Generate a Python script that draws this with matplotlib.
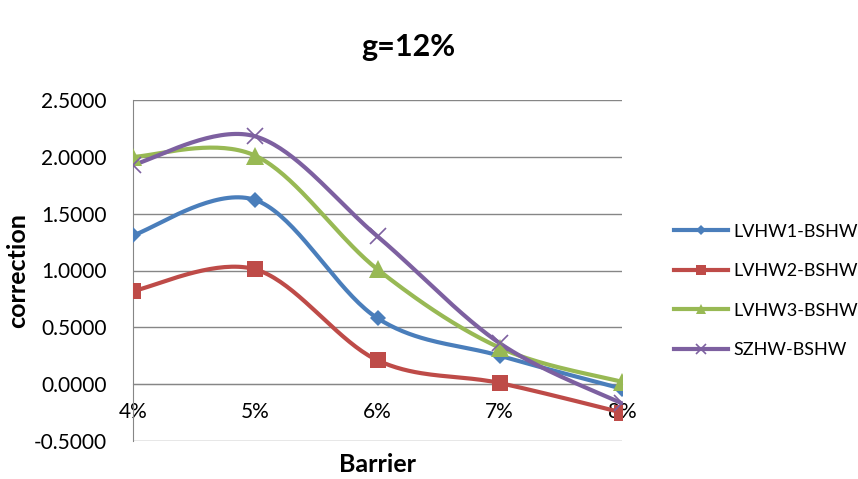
import numpy as np
import matplotlib
matplotlib.use("Agg")
from matplotlib import pyplot as plt

plt.rcParams['font.family'] = ['Lato', 'DejaVu Sans']

barriers = ["4%", "5%", "6%", "7%", "8%"]
lvhw1 = [1.31, 1.62, 0.58, 0.25, -0.04]
lvhw2 = [0.82, 1.01, 0.21, 0.01, -0.25]
lvhw3 = [2.00, 2.01, 1.01, 0.32, 0.02]
szhw = [1.93, 2.18, 1.30, 0.36, -0.17]

series = [
    ("LVHW1-BSHW", lvhw1, "#4A7EBB", "D", 8),
    ("LVHW2-BSHW", lvhw2, "#BE4B48", "s", 12),
    ("LVHW3-BSHW", lvhw3, "#98B954", "^", 13),
    ("SZHW-BSHW", szhw, "#7D60A0", "x", 12),
]


def smooth(x, y, n=40):
    # catmull-rom style bezier, roughly what excel does for "smoothed line"
    x = np.asarray(x, float)
    y = np.asarray(y, float)
    px = np.concatenate([[x[0]], x, [x[-1]]])
    py = np.concatenate([[y[0]], y, [y[-1]]])
    xs, ys = [], []
    t = np.linspace(0, 1, n)
    for i in range(1, len(px) - 2):
        p0 = np.array([px[i], py[i]])
        p3 = np.array([px[i + 1], py[i + 1]])
        p1 = p0 + (np.array([px[i + 1], py[i + 1]]) - np.array([px[i - 1], py[i - 1]])) / 6
        p2 = p3 - (np.array([px[i + 2], py[i + 2]]) - np.array([px[i], py[i]])) / 6
        b = ((1 - t) ** 3)[:, None] * p0 + (3 * (1 - t) ** 2 * t)[:, None] * p1 \
            + (3 * (1 - t) * t ** 2)[:, None] * p2 + (t ** 3)[:, None] * p3
        xs.extend(b[:, 0])
        ys.extend(b[:, 1])
    return xs, ys


fig = plt.figure(figsize=(8.58, 4.79), dpi=100)
ax = fig.add_axes([133 / 858, 1 - 441 / 479, (622 - 133) / 858, (441 - 100) / 479])

xpos = np.arange(len(barriers))
for name, vals, col, mk, ms in series:
    sx, sy = smooth(xpos, vals)
    ax.plot(sx, sy, color=col, lw=3, solid_capstyle="round", zorder=3)
    mew = 1.2 if mk == "x" else 0
    ax.plot(xpos, vals, ls="none", marker=mk, markersize=ms, color=col,
            markeredgewidth=mew, zorder=4)
    ax.plot([], [], color=col, lw=3, marker=mk, markersize=ms * 0.6,
            markeredgewidth=mew, label=name)

# category axis crosses at 0 like in excel
ax.spines["bottom"].set_position(("data", 0))
ax.spines["bottom"].set_color("#868686")
ax.spines["left"].set_color("#868686")
for s in ["top", "right"]:
    ax.spines[s].set_visible(False)

ax.set_xlim(0, 4)
ax.set_ylim(-0.5, 2.5)
yt = np.arange(-0.5, 2.51, 0.5)
ax.set_yticks(yt)
ax.set_yticklabels([f"{v:.4f}" for v in yt], fontsize=15)
ax.set_xticks(xpos)
ax.set_xticklabels(barriers, fontsize=15)
ax.yaxis.grid(True, color="#868686", lw=1)
ax.set_axisbelow(True)
ax.tick_params(axis="both", length=0)
ax.tick_params(axis="x", pad=13)
ax.tick_params(axis="y", pad=19)

ax.set_xlabel("Barrier", fontsize=18, fontweight="bold")
ax.xaxis.set_label_coords(0.5, -0.035)
ax.set_ylabel("correction", fontsize=18, fontweight="bold")
ax.yaxis.set_label_coords(-0.213, 0.5)
fig.text(408 / 858, 1 - 47 / 479, "g=12%", fontsize=22, fontweight="bold",
         ha="center", va="center")

fig.legend(loc="center left", bbox_to_anchor=(658 / 858, 1 - 291 / 479), frameon=False,
           fontsize=13, labelspacing=1.3, handlelength=3.0, handletextpad=0.3)

fig.savefig("out.png", dpi=100)
